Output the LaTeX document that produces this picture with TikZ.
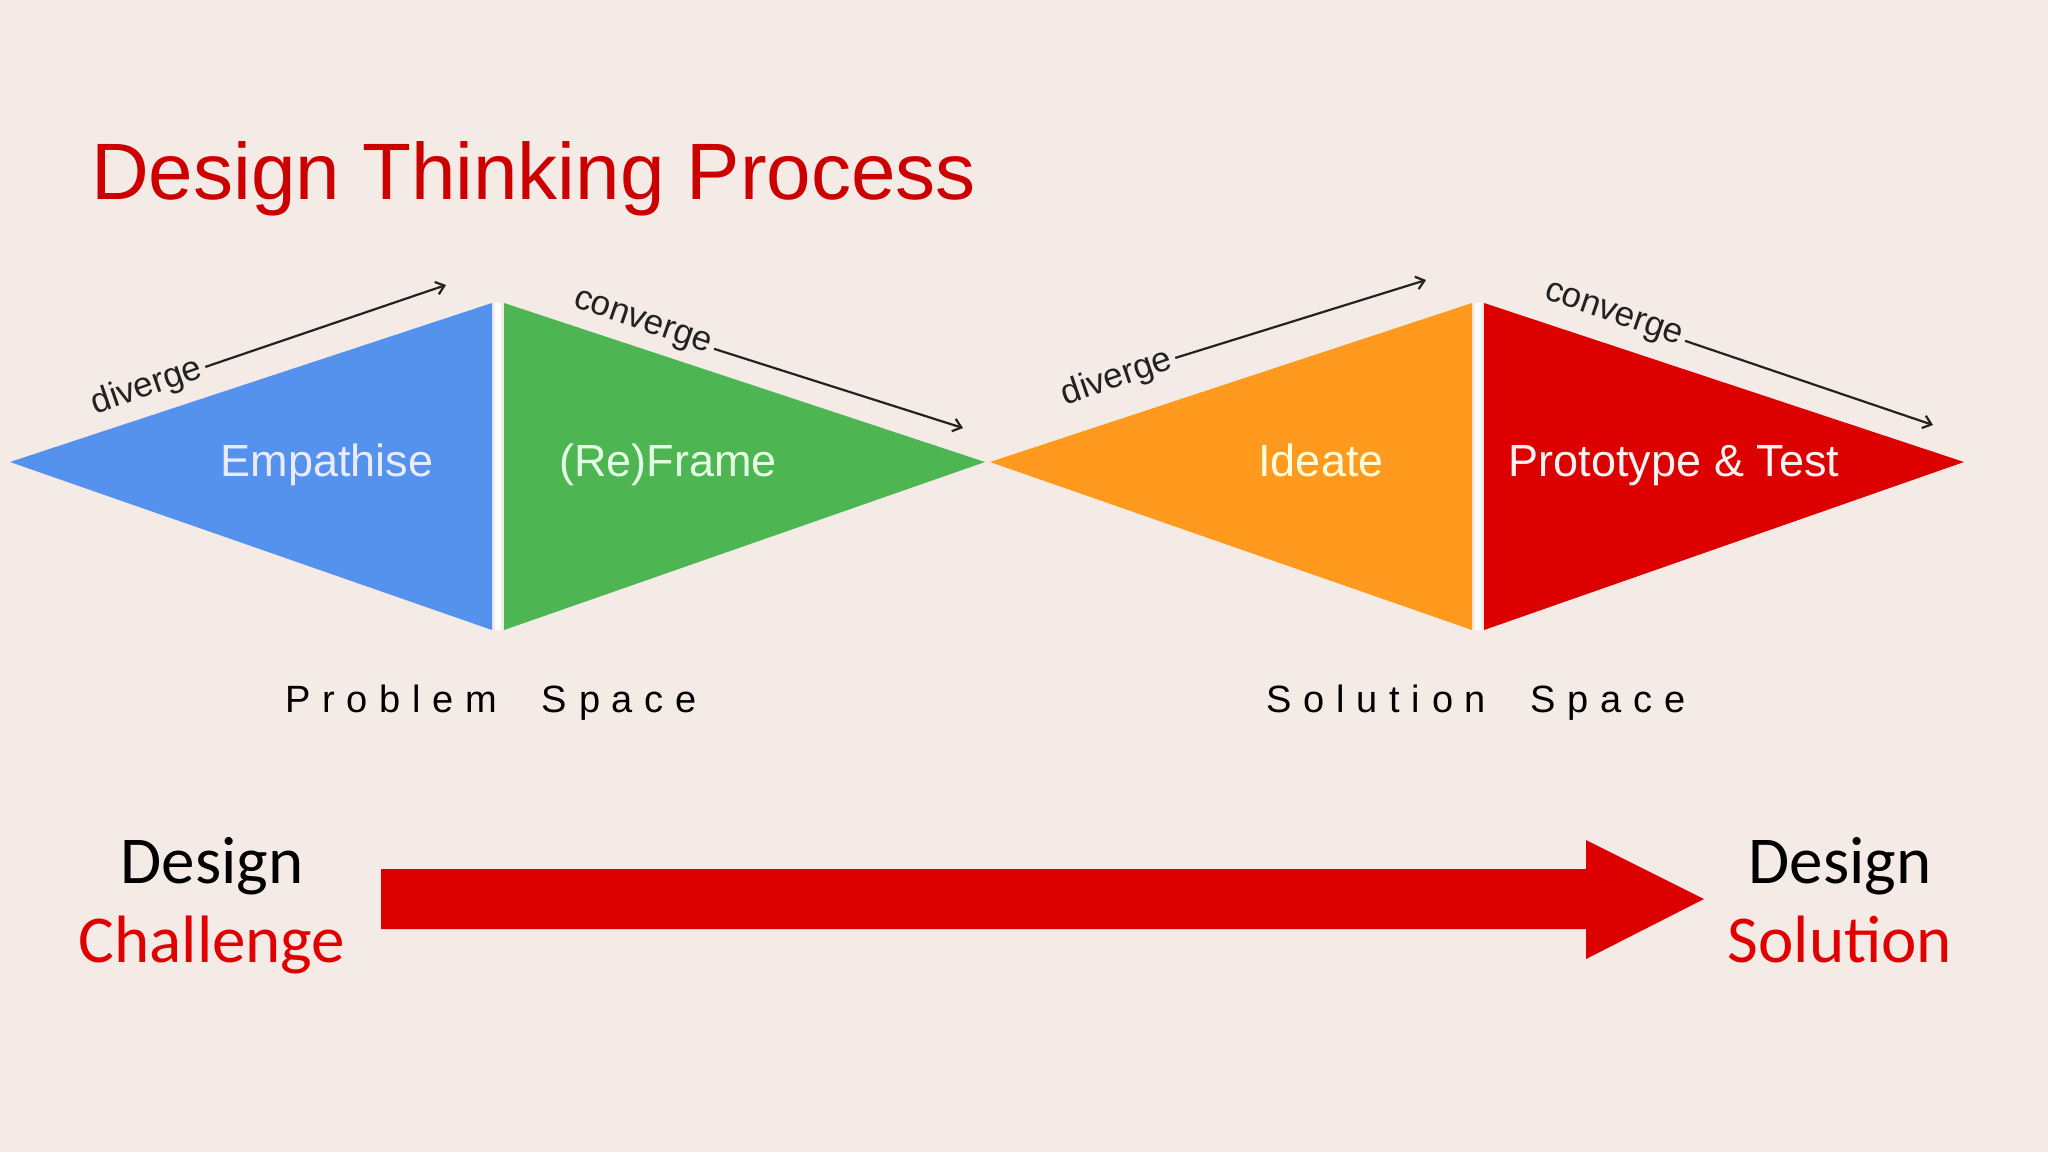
\documentclass[tikz,border=0pt]{standalone}
\usepackage{fontspec}
\setmainfont{Liberation Sans}
\newfontfamily\calibrifont{Carlito}
\newfontfamily\spacedfont[LetterSpace=31]{Liberation Sans}
\usetikzlibrary{positioning}
\usetikzlibrary{arrows.meta,arrows}

\definecolor{bgbeige}{HTML}{F4EBE6}
\definecolor{titlered}{HTML}{CC0000}
\definecolor{empblue}{HTML}{5592EE}
\definecolor{framegreen}{HTML}{4DB552}
\definecolor{ideaorange}{HTML}{FF9A1E}
\definecolor{protored}{HTML}{DD0000}
\definecolor{arrowred}{HTML}{DC0000}
\definecolor{labelred}{HTML}{E00000}
\definecolor{linegray}{HTML}{222222}

\begin{document}
\begin{tikzpicture}[x=1pt,y=-1pt,
	phase/.style={font=\fontsize{45}{50}\selectfont, inner sep=0, anchor=base},
	flowlabel/.style={font=\fontsize{35}{38}\selectfont, inner sep=4pt, text=linegray},
	flowarrow/.style={-{Straight Barb[length=8pt,width=13pt]}, line width=2.2pt, draw=linegray},
	spacelabel/.style={font=\spacedfont\fontsize{38}{42}\selectfont, inner sep=0, anchor=base},
	endlabel/.style={font=\calibrifont\fontsize{67}{70}\selectfont, inner sep=0, anchor=base}]
				\fill[bgbeige] (0,0) rectangle (2048,1152);

				\node[anchor=base west, inner sep=0, text=titlered, font=\fontsize{80}{90}\selectfont] (title) at (91,199) {Design Thinking Process};

				% the four triangles
				\fill[empblue] (10,462) -- (492,303) -- (492,630) -- cycle;
				\fill[framegreen] (504,303) -- (985,462) -- (504,630) -- cycle;
				\fill[ideaorange] (990,462) -- (1472,303) -- (1472,630) -- cycle;
				\fill[protored] (1484,303) -- (1964,462) -- (1484,630) -- cycle;
				\draw[white, line width=6pt] (498,303) -- (498,630);
				\draw[white, line width=6pt] (1478,303) -- (1478,630);

				\node[phase, text=blue!8!white] (empathise) at (327,476) {Empathise};
				\node[phase, text=green!10!white] (reframe) at (668,476) {(Re)Frame};
				\node[phase, text=yellow!14!white] (ideate) at (1321,476) {Ideate};
				\node[phase, text=red!5!white] (prototype) at (1674,476) {Prototype \& Test};

				\node[flowlabel, rotate=19] (div1) at (147,387) {diverge};
				\node[flowlabel, rotate=-19] (conv1) at (642,324) {converge};
				\node[flowlabel, rotate=19] (div2) at (1117,378) {diverge};
				\node[flowlabel, rotate=-19] (conv2) at (1613,316) {converge};
				\coordinate (d1end) at (446,285);
				\coordinate (c1end) at (963,428);
				\coordinate (d2end) at (1426,280);
				\coordinate (c2end) at (1933,425);

				\draw[flowarrow] (div1.east) to (d1end);
				\draw[flowarrow] (conv1.east) to (c1end);
				\draw[flowarrow] (div2.east) to (d2end);
				\draw[flowarrow] (conv2.east) to (c2end);

				\node[spacelabel] (probspace) at (491,712) {Problem\ \ Space};
				\node[spacelabel] (solspace) at (1476,712) {Solution\ \ Space};

				% bottom line
				\node[endlabel] (design1) at (212,883) {Design};
				\node[endlabel, text=labelred] (challenge) at (212,962) {Challenge};
				\node[endlabel] (design2) at (1840,883) {Design};
				\node[endlabel, text=labelred] (solution) at (1840,962) {Solution};
				\fill[arrowred] (381,869) -- (1586,869) -- (1586,840) -- (1704,899) -- (1586,959) -- (1586,929) -- (381,929) -- cycle;
			\end{tikzpicture}
\end{document}
